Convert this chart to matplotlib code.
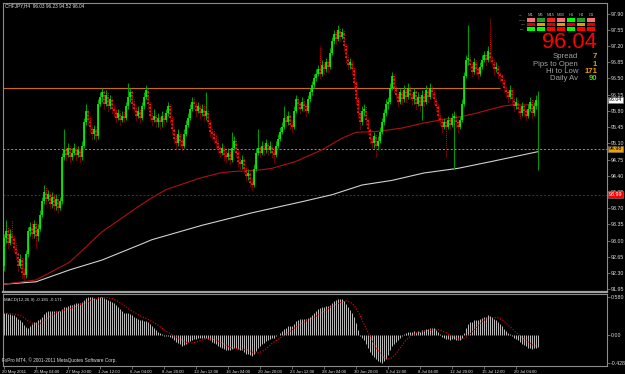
import numpy as np
import pandas as pd
import matplotlib
matplotlib.use('Agg')
import matplotlib.pyplot as plt
from matplotlib.patches import Rectangle
from matplotlib.transforms import ScaledTranslation
from matplotlib import font_manager

# ---------------- data ----------------
symbol_title = "CHFJPY,H4  96.03 96.23 94.52 96.04"
macd_title = "MACD(12,26,9) -0.181 -0.171"
copyright_txt = "FxPro MT4, \u00a9 2001-2011 MetaQuotes Software Corp."

first_open = 92.45
closes = [
    93.05, 93.20, 92.95, 93.15, 93.05, 92.85, 92.70, 92.45, 92.60, 92.30,
    92.25, 92.70, 93.20, 93.30, 93.15, 93.35, 93.10, 93.25, 93.55, 93.85,
    94.05, 93.90, 94.00, 93.80, 93.95, 93.75, 93.90, 93.70, 93.85, 94.80,
    94.95, 94.85, 95.00, 94.80, 94.90, 95.00, 94.85, 94.95, 94.80, 95.05,
    95.55, 95.80, 95.60, 95.45, 95.30, 95.40, 95.25, 95.95, 96.10, 96.20,
    95.95, 96.15, 95.90, 96.05, 95.85, 95.80, 95.65, 95.75, 95.60, 95.70,
    95.65, 95.90, 96.10, 96.20, 95.95, 95.85, 95.70, 95.80, 95.65, 95.90,
    96.10, 96.25, 95.95, 95.70, 95.60, 95.70, 95.55, 95.65, 95.55, 95.70,
    95.60, 95.75, 95.90, 95.65, 95.40, 95.20, 95.10, 95.30, 95.15, 95.05,
    95.30, 95.50, 95.65, 95.85, 96.00, 95.95, 95.80, 95.90, 95.75, 95.85,
    95.70, 95.80, 95.55, 95.35, 95.30, 95.20, 95.10, 95.00, 94.90, 95.00,
    94.85, 94.80, 94.90, 94.75, 95.00, 95.15, 94.90, 94.70, 94.65, 94.75,
    94.55, 94.40, 94.45, 94.25, 94.20, 94.55, 94.90, 95.00, 94.90, 95.05,
    94.95, 95.10, 94.95, 95.05, 94.90, 94.85, 95.05, 95.20, 95.35, 95.45,
    95.65, 95.55, 95.70, 95.50, 95.45, 95.80, 96.05, 95.95, 95.85, 96.00,
    95.90, 95.80, 96.05, 96.20, 96.35, 96.50, 96.60, 96.70, 96.60, 96.80,
    96.70, 96.85, 96.75, 97.05, 97.30, 97.45, 97.35, 97.55, 97.40, 97.50,
    97.20, 96.95, 96.80, 96.85, 96.70, 96.40, 96.05, 95.75, 95.55, 95.80,
    95.85, 95.60, 95.40, 95.20, 95.10, 95.25, 95.05, 95.15, 95.35, 95.55,
    95.75, 95.95, 96.00, 96.30, 96.55, 96.30, 96.15, 96.00, 96.20, 96.05,
    96.25, 96.10, 96.30, 96.15, 96.05, 96.20, 95.95, 96.10, 95.90, 96.15,
    96.00, 96.25, 96.10, 96.30, 96.20, 96.05, 95.90, 95.70, 95.60, 95.45,
    95.55, 95.45, 95.60, 95.50, 95.65, 95.70, 95.55, 95.45, 95.60, 95.95,
    96.55, 96.90, 96.95, 96.80, 96.65, 96.85, 96.70, 96.60, 96.75, 96.90,
    97.00, 96.90, 97.10, 96.95, 96.85, 96.70, 96.75, 96.60, 96.55, 96.45,
    96.30, 96.20, 96.10, 96.25, 96.05, 95.90, 96.00, 95.85, 95.75, 95.90,
    95.80, 95.70, 95.85, 96.00, 95.75, 95.90, 96.03, 96.04,
]
highs = [
    93.15, 93.45, 93.30, 93.25, 93.45, 93.10, 92.95, 92.75, 92.70, 92.65,
    92.40, 92.80, 93.30, 93.40, 93.40, 93.45, 93.40, 93.35, 93.65, 93.95,
    94.20, 94.15, 94.10, 94.05, 94.05, 94.00, 94.00, 93.95, 93.95, 94.90,
    95.40, 95.05, 95.10, 95.05, 95.00, 95.10, 95.05, 95.05, 95.00, 95.15,
    95.65, 95.95, 95.85, 95.70, 95.50, 95.50, 95.45, 96.05, 96.20, 96.30,
    96.25, 96.25, 96.20, 96.15, 96.10, 95.95, 95.85, 95.85, 95.80, 95.80,
    95.80, 96.00, 96.40, 96.30, 96.25, 96.05, 95.90, 95.90, 95.85, 96.00,
    96.20, 96.35, 96.30, 96.00, 95.80, 95.85, 95.75, 95.75, 95.70, 95.80,
    95.75, 95.85, 96.00, 95.95, 95.70, 95.45, 95.30, 95.40, 95.35, 95.20,
    95.40, 95.60, 95.75, 95.95, 96.10, 96.10, 96.00, 96.00, 95.95, 95.95,
    95.95, 96.20, 95.85, 95.60, 95.45, 95.40, 95.30, 95.20, 95.05, 95.10,
    95.05, 94.95, 95.00, 94.95, 95.35, 95.25, 95.20, 94.95, 94.80, 94.85,
    94.80, 94.60, 94.55, 94.50, 94.35, 94.65, 95.00, 95.40, 95.05, 95.15,
    95.10, 95.20, 95.15, 95.15, 95.10, 95.00, 95.15, 95.30, 95.45, 95.55,
    95.90, 95.75, 95.80, 95.75, 95.60, 95.90, 96.15, 96.10, 96.00, 96.10,
    96.05, 95.95, 96.15, 96.30, 96.45, 96.60, 96.70, 96.80, 97.20, 96.90,
    96.85, 96.95, 96.90, 97.15, 97.40, 97.55, 97.55, 97.65, 97.60, 97.60,
    97.55, 97.25, 97.00, 96.95, 96.90, 96.75, 96.45, 96.10, 95.80, 95.90,
    95.95, 95.90, 95.65, 95.45, 95.25, 95.35, 95.30, 95.25, 95.45, 95.65,
    95.85, 96.05, 96.10, 96.40, 96.65, 96.60, 96.35, 96.20, 96.30, 96.25,
    96.35, 96.30, 96.40, 96.35, 96.20, 96.30, 96.25, 96.20, 96.15, 96.25,
    96.20, 96.35, 96.30, 96.40, 96.35, 96.25, 96.10, 95.95, 95.75, 95.65,
    95.65, 95.60, 95.70, 95.65, 95.75, 95.80, 95.75, 95.60, 95.70, 96.05,
    96.65, 97.00, 97.65, 97.00, 96.85, 96.95, 96.90, 96.75, 96.85, 97.00,
    97.10, 97.05, 97.20, 97.80, 97.00, 96.90, 96.85, 96.80, 96.65, 96.60,
    96.50, 96.35, 96.25, 96.35, 96.30, 96.10, 96.10, 96.05, 95.90, 96.00,
    95.95, 95.85, 95.95, 96.10, 96.05, 96.00, 96.15, 96.23,
]
lows = [
    92.35, 92.95, 92.85, 92.90, 92.95, 92.75, 92.60, 92.35, 92.40, 92.20,
    92.15, 92.20, 92.65, 93.10, 93.05, 93.05, 92.85, 93.00, 93.20, 93.50,
    93.80, 93.80, 93.85, 93.70, 93.70, 93.65, 93.65, 93.60, 93.65, 93.80,
    94.75, 94.75, 94.80, 94.70, 94.75, 94.85, 94.75, 94.80, 94.70, 94.75,
    95.00, 95.50, 95.50, 95.35, 95.20, 95.20, 95.15, 95.20, 95.90, 96.00,
    95.85, 95.90, 95.80, 95.85, 95.75, 95.70, 95.55, 95.60, 95.50, 95.55,
    95.55, 95.60, 95.85, 96.00, 95.85, 95.75, 95.60, 95.65, 95.55, 95.60,
    95.85, 96.05, 95.85, 95.60, 95.50, 95.55, 95.45, 95.45, 95.40, 95.45,
    95.50, 95.55, 95.70, 95.55, 95.30, 95.10, 95.00, 95.05, 95.05, 94.95,
    95.00, 95.25, 95.45, 95.60, 95.80, 95.85, 95.70, 95.75, 95.65, 95.70,
    95.60, 95.60, 95.45, 95.25, 95.20, 95.10, 95.00, 94.90, 94.80, 94.85,
    94.75, 94.70, 94.75, 94.65, 94.70, 94.95, 94.80, 94.60, 94.55, 94.55,
    94.45, 94.30, 94.30, 94.15, 94.10, 94.15, 94.50, 94.85, 94.80, 94.85,
    94.85, 94.90, 94.85, 94.90, 94.80, 94.70, 94.80, 95.00, 95.15, 95.30,
    95.40, 95.45, 95.50, 95.40, 95.35, 95.40, 95.75, 95.85, 95.75, 95.80,
    95.80, 95.70, 95.75, 96.00, 96.15, 96.30, 96.45, 96.55, 96.50, 96.55,
    96.60, 96.65, 96.65, 96.70, 97.00, 97.25, 97.25, 97.30, 97.30, 97.35,
    97.10, 96.85, 96.70, 96.70, 96.60, 96.30, 95.95, 95.65, 95.40, 95.50,
    95.70, 95.50, 95.30, 95.10, 95.00, 95.00, 94.80, 94.95, 95.10, 95.30,
    95.50, 95.70, 95.85, 95.95, 96.25, 96.20, 96.05, 95.90, 95.95, 95.95,
    96.00, 96.00, 96.05, 96.05, 95.95, 95.95, 95.85, 95.90, 95.80, 95.60,
    95.90, 95.95, 96.00, 96.05, 96.10, 95.95, 95.80, 95.60, 95.50, 95.35,
    95.40, 94.80, 95.40, 95.40, 95.45, 94.55, 95.45, 95.35, 95.40, 95.55,
    95.90, 96.50, 96.80, 96.70, 96.55, 96.60, 96.60, 96.50, 96.55, 96.70,
    96.85, 96.80, 96.85, 96.85, 96.75, 96.60, 96.65, 96.50, 96.45, 96.35,
    96.20, 96.10, 96.00, 96.05, 95.95, 95.80, 95.85, 95.75, 95.65, 95.70,
    95.70, 95.60, 95.65, 95.80, 95.65, 95.70, 95.85, 94.52,
]
# moving averages (bar index, value)
red_ma_idx = [0, 16, 33, 49, 66, 73, 81, 98, 108, 114, 122, 129, 134, 146, 159,
              169, 176, 184, 189, 199, 210, 219, 229, 236, 249, 254, 267]
red_ma_val = [92.06, 92.15, 92.54, 93.19, 93.70, 93.90, 94.10, 94.35, 94.46, 94.49,
              94.51, 94.53, 94.56, 94.71, 94.96, 95.21, 95.34, 95.35, 95.37, 95.43,
              95.54, 95.61, 95.68, 95.75, 95.90, 95.93, 95.93]
white_ma_idx = [0, 16, 33, 49, 69, 74, 99, 124, 149, 164, 179, 194, 199, 210, 227, 244, 267]
white_ma_val = [92.06, 92.11, 92.37, 92.58, 92.93, 93.02, 93.33, 93.60, 93.84, 93.99,
                94.20, 94.30, 94.35, 94.46, 94.56, 94.71, 94.92]
orange_level = 96.30
orange_level_end = 248
orange_dash_level = 94.98
red_dash_level = 93.99
bid = 96.04

macd = [
    0.33, 0.33, 0.32, 0.32, 0.31, 0.30, 0.28, 0.25, 0.23, 0.19,
    0.15, 0.12, 0.11, 0.14, 0.17, 0.19, 0.20, 0.22, 0.25, 0.28,
    0.32, 0.35, 0.37, 0.36, 0.37, 0.36, 0.37, 0.36, 0.36, 0.40,
    0.42, 0.43, 0.44, 0.45, 0.46, 0.47, 0.48, 0.49, 0.49, 0.50,
    0.53, 0.56, 0.57, 0.58, 0.57, 0.56, 0.55, 0.57, 0.58, 0.58,
    0.56, 0.55, 0.53, 0.52, 0.50, 0.48, 0.45, 0.43, 0.40, 0.37,
    0.34, 0.33, 0.33, 0.32, 0.30, 0.28, 0.26, 0.24, 0.22, 0.22,
    0.21, 0.21, 0.19, 0.16, 0.13, 0.10, 0.07, 0.05, 0.03, 0.01,
    -0.01, -0.01, -0.02, -0.03, -0.05, -0.08, -0.11, -0.12, -0.14, -0.16,
    -0.15, -0.13, -0.11, -0.09, -0.07, -0.06, -0.06, -0.05, -0.05, -0.05,
    -0.05, -0.05, -0.06, -0.08, -0.10, -0.12, -0.14, -0.16, -0.18, -0.19,
    -0.21, -0.22, -0.22, -0.23, -0.21, -0.19, -0.19, -0.21, -0.22, -0.23,
    -0.25, -0.28, -0.29, -0.31, -0.32, -0.29, -0.24, -0.20, -0.17, -0.14,
    -0.12, -0.09, -0.08, -0.06, -0.05, -0.04, -0.02, 0.00, 0.03, 0.06,
    0.09, 0.11, 0.13, 0.14, 0.14, 0.17, 0.21, 0.23, 0.24, 0.25,
    0.25, 0.24, 0.26, 0.28, 0.31, 0.34, 0.37, 0.40, 0.41, 0.43,
    0.43, 0.44, 0.44, 0.46, 0.49, 0.52, 0.53, 0.55, 0.55, 0.55,
    0.52, 0.47, 0.42, 0.38, 0.34, 0.27, 0.18, 0.08, -0.01, -0.05,
    -0.08, -0.13, -0.19, -0.25, -0.30, -0.33, -0.37, -0.39, -0.41, -0.43,
    -0.40, -0.36, -0.30, -0.23, -0.17, -0.13, -0.10, -0.07, -0.04, -0.02,
    0.01, 0.03, 0.04, 0.05, 0.05, 0.06, 0.05, 0.06, 0.05, 0.07,
    0.07, 0.09, 0.09, 0.11, 0.11, 0.10, 0.07, 0.04, 0.01, -0.03,
    -0.04, -0.06, -0.06, -0.07, -0.06, -0.06, -0.07, -0.08, -0.07, -0.04,
    0.03, 0.10, 0.16, 0.19, 0.20, 0.23, 0.23, 0.23, 0.24, 0.26,
    0.28, 0.28, 0.30, 0.29, 0.27, 0.24, 0.22, 0.19, 0.16, 0.13,
    0.09, 0.06, 0.03, 0.01, -0.02, -0.04, -0.06, -0.08, -0.10, -0.13,
    -0.15, -0.17, -0.19, -0.20, -0.21, -0.20, -0.19, -0.181,
]
price_ticks = [91.95, 92.30, 92.65, 93.00, 93.35, 93.70, 94.05, 94.40, 94.75, 95.10,
               95.45, 95.80, 96.15, 96.50, 96.85, 97.20, 97.55, 97.90]
macd_ticks = [0.580, 0.0, -0.428]
macd_tick_labels = ["0.580", "0.00", "-0.428"]
date_tick_bars = [0, 16, 32, 48, 64, 80, 96, 112, 128, 144, 160, 176, 192, 208, 224, 240, 256]
date_labels = ["20 May 2011", "25 May 04:00", "27 May 20:00", "1 Jun 12:00", "6 Jun 04:00",
               "8 Jun 20:00", "13 Jun 12:00", "16 Jun 04:00", "20 Jun 20:00", "23 Jun 12:00",
               "28 Jun 04:00", "30 Jun 20:00", "5 Jul 12:00", "8 Jul 04:00", "12 Jul 20:00",
               "15 Jul 12:00", "20 Jul 04:00"]
tf_headers = ["M1", "M5", "M15", "M30", "H1", "H4", "D1"]
tf_rows = ["MACD", "STR", "EMA"]
tf_colors = [
    ["#ff7070", "#20a020", "#ff2020", "#ff7070", "#00ff00", "#20a020", "#ff7070"],
    ["#e00000", "#e0a000", "#e00000", "#e0a000", "#e00000", "#e0a000", "#e00000"],
    ["#00ff00", "#00ff00", "#ff0000", "#ff0000", "#00ff00", "#ff0000", "#ff0000"],
]
info_labels = ["Spread", "Pips to Open", "Hi to Low", "Daily Av"]
info_values = ["7", "1", "171", "90"]
info_colors = ["#f0a000", "#60e000", "#f0a000", "#40e000"]

# ---------------- fonts ----------------
_names = {f.name for f in font_manager.fontManager.ttflist}
SMALL = ['Liberation Sans Narrow', 'DejaVu Sans'] if 'Liberation Sans Narrow' in _names \
    else ['Liberation Sans', 'DejaVu Sans']
ARIAL = ['Liberation Sans', 'DejaVu Sans']

W, H = 625, 374
fig = plt.figure(figsize=(W / 100, H / 100), dpi=100, facecolor='black')
_renderer = fig.canvas.get_renderer()


def fit_size(sample, family, target_px, weight='normal'):
    t = fig.text(0, 0, sample, fontsize=10, family=family, weight=weight)
    w = t.get_window_extent(_renderer).width
    t.remove()
    return 10.0 * target_px / w


FS_TICK = fit_size("97.90", SMALL, 13)
FS_DATE = fit_size("25 May 04:00", SMALL, 26)
FS_TITLE = fit_size(symbol_title, SMALL, 79)
FS_MACDT = fit_size(macd_title, SMALL, 58)
FS_COPY = fit_size(copyright_txt, SMALL, 113)
FS_HDR = fit_size("M15", SMALL, 8)
FS_ROW = fit_size("MACD", SMALL, 7)
FS_INFO = fit_size("Pips to Open", ARIAL, 45)
FS_BIG = fit_size("96.04", ARIAL, 55)


def fx(x):
    return x / W


def fy(y):
    return 1 - y / H


ax = fig.add_axes([fx(3), fy(292), (607 - 3) / W, (292 - 3) / H], facecolor='black')
axm = fig.add_axes([fx(3), fy(366), (607 - 3) / W, (366 - 294) / H], facecolor='black')

for a in (ax, axm):
    a.set_xlim(-0.5, 301.5)
    for s in a.spines.values():
        s.set_color('#8c8c8c')
        s.set_linewidth(0.8)
ax.spines['bottom'].set_linewidth(1.6)
ax.spines['bottom'].set_color('#a0a0a0')
ax.set_ylim(91.89, 98.13)
axm.set_ylim(-0.469, 0.621)

c = np.array(closes)
hi = np.array(highs)
lo = np.array(lows)
o = np.r_[first_open, c[:-1]]
x = np.arange(len(c))
hi2 = np.maximum(hi, np.maximum(o, c))
lo2 = np.minimum(lo, np.minimum(o, c))
up = c >= o
dn = ~up

# moving averages
ax.plot(white_ma_idx, white_ma_val, color='#d0d0d0', lw=0.8, zorder=2)
ax.plot(red_ma_idx, red_ma_val, color='#b01010', lw=0.8, zorder=2)

# levels
ax.hlines(orange_level, -0.5, orange_level_end, color='#c87000', lw=0.8, zorder=1)
ax.axhline(orange_dash_level, color='#d09000', lw=0.7, ls=(0, (2, 2)), zorder=1)
ax.axhline(red_dash_level, color='#c00000', lw=0.7, ls=(0, (2, 2)), zorder=1)

# candles
ax.vlines(x[up], lo2[up], hi2[up], color='#00a000', lw=0.7, zorder=3)
ax.vlines(x[up], o[up], c[up], color='#00ff00', lw=1.2, zorder=4)
ax.vlines(x[dn], lo2[dn], hi2[dn], color='#e00000', lw=0.7, linestyles=(0, (1, 1)), zorder=3)
ax.vlines(x[dn], c[dn], o[dn], color='#ff1a1a', lw=1.3, linestyles=(0, (1, 1)), zorder=4)

# price axis
ax.yaxis.tick_right()
ax.set_yticks(price_ticks)
ax.set_yticklabels([f"{t:.2f}" for t in price_ticks])
ax.tick_params(axis='y', colors='#909090', labelcolor='#e0e0e0', labelsize=FS_TICK,
               length=2, width=0.5, pad=1)
ax.set_xticks([])
for lbl in ax.get_yticklabels():
    lbl.set_family(SMALL)

# right-side boxed labels
for lev, txt, fc, tc in [(orange_dash_level, f"{orange_dash_level:.2f}", '#f0a000', '#000000'),
                         (red_dash_level, f"{red_dash_level:.2f}", '#ff0000', '#ffffff'),
                         (bid, f"{bid:.2f}", '#ffffff', '#000000')]:
    ax.annotate(txt, xy=(1, lev), xycoords=('axes fraction', 'data'), xytext=(1.4, 0),
                textcoords='offset points', ha='left', va='center', fontsize=FS_TICK,
                color=tc, family=SMALL, annotation_clip=False, zorder=10,
                bbox=dict(boxstyle='square,pad=0.15', fc=fc, ec='#808080', lw=0.4))

# MACD
axm.vlines(x, 0, macd, color='#b8b8b8', lw=0.72)
signal = pd.Series(macd).rolling(9, min_periods=1).mean().to_numpy()
axm.plot(x, signal, color='#ff0000', lw=0.8, ls=(0, (1, 1.5)))
axm.yaxis.tick_right()
axm.set_yticks(macd_ticks)
axm.set_yticklabels(macd_tick_labels)
axm.tick_params(axis='y', colors='#909090', labelcolor='#e0e0e0', labelsize=FS_TICK,
                length=2, width=0.5, pad=1)
axm.set_xticks(date_tick_bars)
axm.set_xticklabels(date_labels, ha='left')
axm.tick_params(axis='x', colors='#909090', labelcolor='#e0e0e0', labelsize=FS_DATE,
                length=2, width=0.5, pad=0.8)
shift = ScaledTranslation(-2 / 100, 0, fig.dpi_scale_trans)
for lbl in axm.get_xticklabels():
    lbl.set_family(SMALL)
    lbl.set_transform(lbl.get_transform() + shift)
for lbl in axm.get_yticklabels():
    lbl.set_family(SMALL)

# texts
fig.text(fx(5), fy(6), symbol_title, fontsize=FS_TITLE, color='#e0e0e0', family=SMALL,
         ha='left', va='center')
fig.text(fx(4), fy(299.5), macd_title, fontsize=FS_MACDT, color='#e0e0e0', family=SMALL,
         ha='left', va='center')
fig.text(fx(2), fy(360), copyright_txt, fontsize=FS_COPY, color='#e0e0e0', family=SMALL,
         ha='left', va='center')

# timeframe matrix
for j, hname in enumerate(tf_headers):
    fig.text(fx(531 + 10 * j), fy(15.5), hname, fontsize=FS_HDR, color='#b0b0b0',
             family=SMALL, ha='center', va='center')
fig.text(fx(521), fy(15.5), "GA", fontsize=FS_ROW, color='#909090', family=SMALL,
         ha='center', va='center')
row_tops = [18.3, 22.7, 27.3]
for r, rname in enumerate(tf_rows):
    fig.text(fx(525.5), fy(row_tops[r] + 1.8), rname, fontsize=FS_ROW, color='#909090',
             family=SMALL, ha='right', va='center')
    for j, colr in enumerate(tf_colors[r]):
        fig.patches.append(Rectangle((fx(527 + 10 * j), fy(row_tops[r] + 3.6)),
                                     8.3 / W, 3.6 / H, transform=fig.transFigure,
                                     facecolor=colr, edgecolor='none'))

fig.text(fx(597), fy(48.5), f"{bid:.2f}", fontsize=FS_BIG, color='#ff0000', family=ARIAL,
         ha='right', va='baseline')
info_y = [57, 64.3, 71.6, 79]
for lab, val, col, yy in zip(info_labels, info_values, info_colors, info_y):
    fig.text(fx(578), fy(yy), lab, fontsize=FS_INFO, color='#a0a0a0', family=ARIAL,
             ha='right', va='center')
    fig.text(fx(597), fy(yy), val, fontsize=FS_INFO, color=col, family=ARIAL,
             ha='right', va='center', weight='bold')

fig.savefig('out.png', dpi=100, facecolor='black')
